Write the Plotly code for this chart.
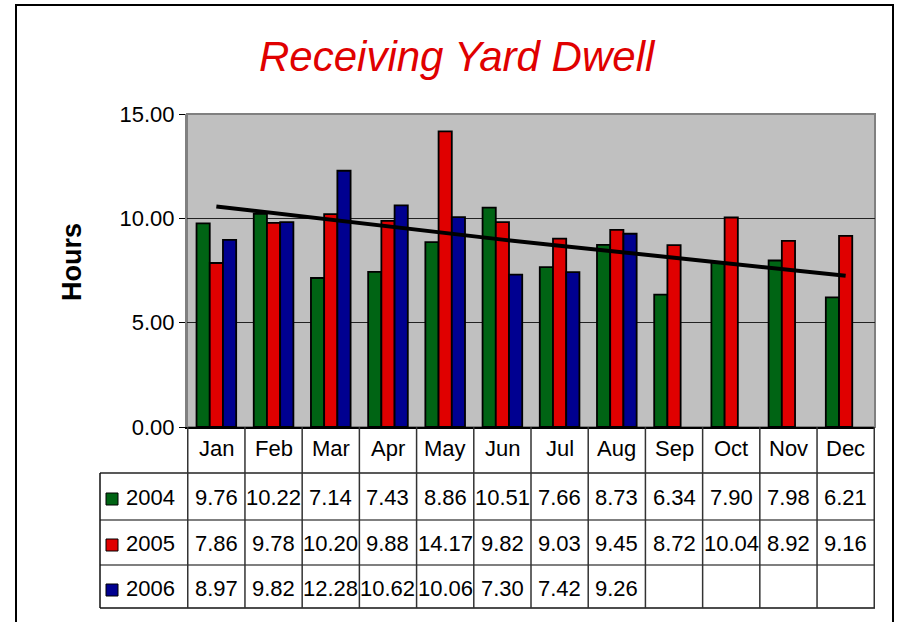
import plotly.graph_objects as go

# data
months = ['Jan', 'Feb', 'Mar', 'Apr', 'May', 'Jun', 'Jul', 'Aug', 'Sep', 'Oct', 'Nov', 'Dec']
years = ['2004', '2005', '2006']
hours_2004 = [9.76, 10.22, 7.14, 7.43, 8.86, 10.51, 7.66, 8.73, 6.34, 7.90, 7.98, 6.21]
hours_2005 = [7.86, 9.78, 10.20, 9.88, 14.17, 9.82, 9.03, 9.45, 8.72, 10.04, 8.92, 9.16]
hours_2006 = [8.97, 9.82, 12.28, 10.62, 10.06, 7.30, 7.42, 9.26, None, None, None, None]
trend = [10.57, 10.25, 9.92, 9.59, 9.27, 8.98, 8.69, 8.40, 8.11, 7.82, 7.54, 7.25]

colors = ['#006414', '#E00000', '#000090']
series = [hours_2004, hours_2005, hours_2006]

# plot area in pixels (for placing the data table below it)
L, R, T, B = 187, 875, 114, 427
W, H = R - L, B - T


def px(x):
    return (x - L) / W


def py(y):
    return (B - y) / H


FONT = 'Liberation Sans, Arial, sans-serif'

fig = go.Figure()

for name, vals, col in zip(years, series, colors):
    fig.add_trace(go.Bar(
        x=months, y=vals, name=name,
        marker=dict(color=col, line=dict(color='black', width=1.8)),
    ))

fig.add_trace(go.Scatter(
    x=months, y=trend, mode='lines', name='trend',
    line=dict(color='black', width=4), showlegend=False
))

shapes = []
annotations = []

# outer frame
shapes.append(dict(type='rect', xref='paper', yref='paper',
                   x0=px(16), x1=px(893), y0=py(640), y1=py(5),
                   line=dict(color='black', width=2), layer='below'))

# data table lines
row_bot = 608
shapes.append(dict(type='line', xref='paper', yref='paper', x0=px(100), x1=px(R),
                   y0=py(473), y1=py(473), line=dict(color='#222', width=1.5)))
for yl in [520, 565]:
    shapes.append(dict(type='line', xref='paper', yref='paper', x0=px(100), x1=px(R),
                       y0=py(yl), y1=py(yl), line=dict(color='#555', width=1.5)))
shapes.append(dict(type='line', xref='paper', yref='paper', x0=px(100), x1=px(R),
                   y0=py(row_bot), y1=py(row_bot), line=dict(color='#111', width=1.5)))
shapes.append(dict(type='line', xref='paper', yref='paper', x0=px(100), x1=px(100),
                   y0=py(473), y1=py(row_bot), line=dict(color='#111', width=1.5)))
for i in range(len(months) + 1):
    shapes.append(dict(type='line', xref='x', yref='paper', x0=i - 0.5, x1=i - 0.5,
                       y0=py(B), y1=py(row_bot), line=dict(color='#333', width=1.5)))

# header row (months)
for m in months:
    annotations.append(dict(x=m, y=py(448), xref='x', yref='paper', text=m,
                            showarrow=False, font=dict(family=FONT, size=22, color='black'),
                            xanchor='center', yanchor='middle'))

# data rows
row_centers = [497, 543, 588]
for name, vals, col, yc in zip(years, series, colors, row_centers):
    shapes.append(dict(type='rect', xref='paper', yref='paper',
                       x0=px(106), x1=px(118), y0=py(yc + 8), y1=py(yc - 4),
                       fillcolor=col, line=dict(color='black', width=1)))
    annotations.append(dict(x=px(124), y=py(yc), xref='paper', yref='paper', text=name,
                            showarrow=False, font=dict(family=FONT, size=22, color='black'),
                            xanchor='left', yanchor='middle'))
    for m, v in zip(months, vals):
        if v is None:
            continue
        annotations.append(dict(x=m, y=py(yc), xref='x', yref='paper', text=f'{v:.2f}',
                                showarrow=False, font=dict(family=FONT, size=22, color='black'),
                                xanchor='center', yanchor='middle'))

# title and y-axis label
annotations.append(dict(x=px(457), y=py(57), xref='paper', yref='paper',
                        text='<i>Receiving Yard Dwell</i>', showarrow=False,
                        font=dict(family=FONT, size=42, color='#E00000'),
                        xanchor='center', yanchor='middle'))
annotations.append(dict(x=px(72), y=py(262), xref='paper', yref='paper',
                        text='<b>Hours</b>', showarrow=False, textangle=-90,
                        font=dict(family=FONT, size=27, color='black'),
                        xanchor='center', yanchor='middle'))

# plot area border (top/right gray)
shapes.append(dict(type='rect', xref='paper', yref='paper', x0=0, x1=1, y0=0, y1=1,
                   line=dict(color='#808080', width=2), layer='below'))

fig.update_layout(
    width=900, height=622,
    barmode='group', bargap=0.307, bargroupgap=0,
    plot_bgcolor='#C0C0C0', paper_bgcolor='white',
    showlegend=False,
    margin=dict(l=L, r=900 - R, t=T, b=622 - B),
    xaxis=dict(showticklabels=False, ticks='', showgrid=False, zeroline=False,
               showline=True, linecolor='black', linewidth=1.5),
    yaxis=dict(range=[0, 15], dtick=5, tickformat='.2f',
               tickfont=dict(family=FONT, size=22, color='black'),
               ticks='outside', ticklen=6, tickcolor='black',
               showgrid=True, gridcolor='#222', gridwidth=1,
               zeroline=False, showline=True, linecolor='#808080', linewidth=2),
    shapes=shapes,
    annotations=annotations,
)

fig.write_html("out.html", config={'displayModeBar': False},
               post_script="document.body.style.margin='0';")
